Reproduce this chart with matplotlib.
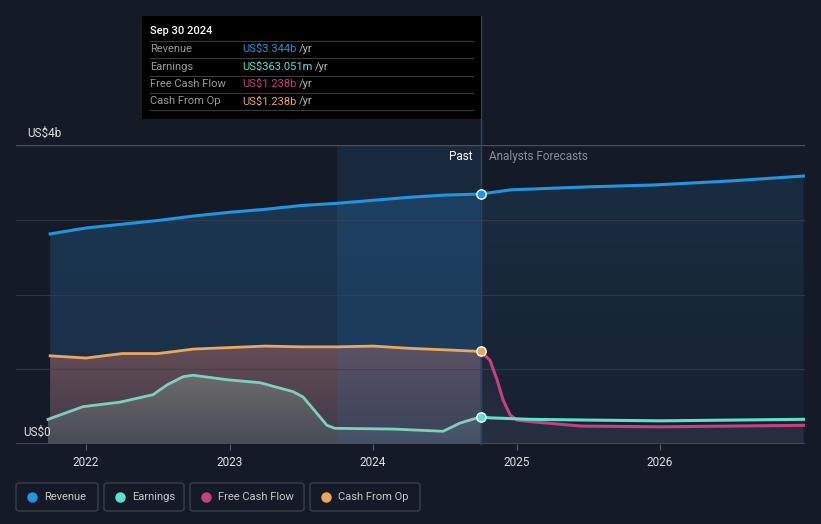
import numpy as np
import matplotlib.pyplot as plt
from matplotlib.patches import Rectangle, FancyBboxPatch, Polygon
from matplotlib.lines import Line2D
from matplotlib.colors import to_rgb

plt.rcParams['font.family'] = ['Roboto', 'DejaVu Sans']

# values in US$ billions, x in fractional years
past_x = [2021.75, 2022.0, 2022.25, 2022.5, 2022.75, 2023.0, 2023.25,
          2023.5, 2023.75, 2024.0, 2024.25, 2024.5, 2024.75]
revenue_past = [2.81, 2.89, 2.94, 2.99, 3.05, 3.10, 3.14, 3.19, 3.22, 3.26, 3.30, 3.33, 3.344]
cfo_past = [1.18, 1.15, 1.21, 1.21, 1.27, 1.29, 1.31, 1.30, 1.30, 1.31, 1.28, 1.26, 1.238]

earn_past_x = [2021.735, 2021.98, 2022.237, 2022.467, 2022.564, 2022.676, 2022.746,
               2022.983, 2023.213, 2023.443, 2023.512, 2023.679, 2023.735,
               2024.139, 2024.488, 2024.606, 2024.75]
earnings_past = [0.33, 0.50, 0.56, 0.66, 0.79, 0.90, 0.92, 0.86, 0.82, 0.70,
                 0.63, 0.25, 0.21, 0.20, 0.17, 0.28, 0.363]

rev_fc_x = [2024.75, 2024.96, 2025.5, 2025.96, 2026.5, 2027.0]
revenue_fc = [3.344, 3.40, 3.44, 3.465, 3.52, 3.585]

earn_fc_x = [2024.75, 2024.815, 2025.094, 2025.5, 2026.0, 2027.0]
earnings_fc = [0.363, 0.35, 0.33, 0.32, 0.31, 0.33]

fcf_fc_x = [2024.75, 2024.815, 2024.864, 2024.906, 2024.955, 2025.003, 2025.094,
            2025.45, 2026.0, 2027.0]
fcf_fc = [1.238, 1.12, 0.86, 0.59, 0.39, 0.32, 0.30, 0.24, 0.23, 0.25]

year_ticks = [2022, 2023, 2024, 2025, 2026]
now_x = 2024.75
band_start = 2023.75

bg = '#151b26'
c_rev = '#2394df'
c_earn = '#5ee0cf'
c_fcf = '#c7407f'
c_cfo = '#e8a85f'

fig = plt.figure(figsize=(8.21, 5.24), dpi=100, facecolor=bg)
W, H = 821, 524
ax = fig.add_axes([16 / W, 80 / H, (805 - 16) / W, (444 - 145) / H])
ax.set_facecolor(bg)
ax.set_xlim(2021.512, 2027.01)
ax.set_ylim(0, 4)


def grad_fill(x, y_top, c_top, c_bot, z):
    x = np.asarray(x)
    y_top = np.asarray(y_top)
    poly = Polygon(np.column_stack([np.r_[x, x[::-1]], np.r_[y_top, np.zeros(len(x))]]),
                   closed=True, facecolor='none', edgecolor='none')
    ax.add_patch(poly)
    ct = np.array(to_rgb(c_top))
    cb = np.array(to_rgb(c_bot))
    t = np.linspace(0, 1, 100)[:, None]
    img = (cb * (1 - t) + ct * t)[:, None, :]
    im = ax.imshow(img, extent=[x.min(), x.max(), 0, y_top.max()], origin='lower',
                   aspect='auto', zorder=z, interpolation='bilinear')
    im.set_clip_path(poly)


# past areas
grad_fill(past_x, revenue_past, '#1b3652', '#1a2e45', 1)
grad_fill(past_x, cfo_past, '#654c56', '#3c3a48', 2)
grad_fill(earn_past_x, earnings_past, '#6b6b6b', '#474b55', 3)
# forecast areas
grad_fill(rev_fc_x, revenue_fc, '#192d42', '#17212e', 1)
grad_fill(fcf_fc_x, fcf_fc, '#1f2736', '#273041', 2)

# highlighted last year band
ax.axvspan(band_start, now_x, color='#2f6ea8', alpha=0.18, zorder=4, lw=0)

# grid
for g in [1, 2, 3]:
    ax.axhline(g, color='#3a4150', lw=0.8, alpha=0.7, zorder=5)
ax.axhline(4, color='#4a505c', lw=1, zorder=5)
ax.axhline(0, color='#4a505c', lw=1.2, zorder=5)

# lines
ax.plot(earn_past_x, earnings_past, color='#7fcfbf', lw=2, zorder=6, solid_joinstyle='round')
ax.plot(earn_fc_x, earnings_fc, color=c_earn, lw=2.2, zorder=7)
ax.plot(fcf_fc_x, fcf_fc, color=c_fcf, lw=2.2, zorder=6, solid_joinstyle='round')
ax.plot(past_x, cfo_past, color=c_cfo, lw=2, zorder=6)
ax.plot(past_x, revenue_past, color=c_rev, lw=2.2, zorder=6)
ax.plot(rev_fc_x, revenue_fc, color=c_rev, lw=2.2, zorder=6)

# now line
ax.plot([now_x, now_x], [0, (444 - 16) / 74.75], color='#2a4663', lw=1, zorder=5, clip_on=False)

for val, col in [(revenue_past[-1], c_rev), (cfo_past[-1], c_cfo), (earnings_past[-1], c_earn)]:
    ax.scatter([now_x], [val], s=45, color=col, edgecolor='white', linewidth=1, zorder=9)

for s in ax.spines.values():
    s.set_visible(False)
ax.set_yticks([])
ax.set_xticks(year_ticks)
ax.set_xticklabels([str(y) for y in year_ticks])
ax.tick_params(axis='x', colors='#5a606c', labelcolor='#e0e0e0', labelsize=8.5, length=4, pad=5)

ax.text(2021.59, 4.07, 'US$4b', color='#e0e0e0', fontsize=8.5, va='bottom', ha='left')
ax.text(2021.56, 0.07, 'US$0', color='#e0e0e0', fontsize=8.5, va='bottom', ha='left', zorder=10)
ax.text(now_x - 0.06, 3.85, 'Past', color='#ffffff', fontsize=8.5, ha='right', va='center', zorder=10)
ax.text(now_x + 0.06, 3.85, 'Analysts Forecasts', color='#8a909a', fontsize=8.5, ha='left', va='center', zorder=10)


# tooltip
def fx_(p):
    return p / W


def fy_(p):
    return 1 - p / H


fig.patches.append(Rectangle((fx_(142), fy_(119)), (481 - 142) / W, (119 - 16) / H,
                             transform=fig.transFigure, facecolor='#000000', edgecolor='none', zorder=20))
fig.text(fx_(150), fy_(31), 'Sep 30 2024', color='white', fontsize=8, fontweight='medium', va='center', zorder=21)
rows = [('Revenue', 'US$3.344b', c_rev), ('Earnings', 'US$363.051m', c_earn),
        ('Free Cash Flow', 'US$1.238b', c_fcf), ('Cash From Op', 'US$1.238b', c_cfo)]
renderer = fig.canvas.get_renderer()
for i, (lab, val, col) in enumerate(rows):
    yy = 49 + i * 17.5
    fig.add_artist(Line2D([fx_(150), fx_(473)], [fy_(yy - 8.5), fy_(yy - 8.5)],
                          transform=fig.transFigure, color='#3a3a3a', lw=0.8, zorder=21))
    fig.text(fx_(150), fy_(yy), lab, color='#9a9a9a', fontsize=8, va='center', zorder=21)
    t = fig.text(fx_(242), fy_(yy), val, color=col, fontsize=8, va='center', zorder=21)
    bb = t.get_window_extent(renderer)
    fig.text(bb.x1 / W + 3 / W, fy_(yy), '/yr', color='#b8b8b8', fontsize=8, va='center', zorder=21)
fig.add_artist(Line2D([fx_(150), fx_(473)], [fy_(110), fy_(110)],
                      transform=fig.transFigure, color='#3a3a3a', lw=0.8, zorder=21))

# legend
legend_items = [('Revenue', c_rev, 16, 98), ('Earnings', c_earn, 104, 184),
                ('Free Cash Flow', c_fcf, 190, 304), ('Cash From Op', c_cfo, 310, 420)]
for lab, col, x0, x1 in legend_items:
    fig.patches.append(FancyBboxPatch((fx_(x0), fy_(511)), (x1 - x0) / W, 28 / H,
                                      boxstyle='round,pad=0,rounding_size=0.004',
                                      transform=fig.transFigure, facecolor='none',
                                      edgecolor='#3a404c', lw=1))
    fig.add_artist(Line2D([fx_(x0 + 16)], [fy_(497)], marker='o', markersize=6.5,
                          color=col, transform=fig.transFigure, linestyle='none'))
    fig.text(fx_(x0 + 28), fy_(497), lab, color='#c8c8c8', fontsize=8, va='center')

fig.savefig('out.png', dpi=100, facecolor=bg)
